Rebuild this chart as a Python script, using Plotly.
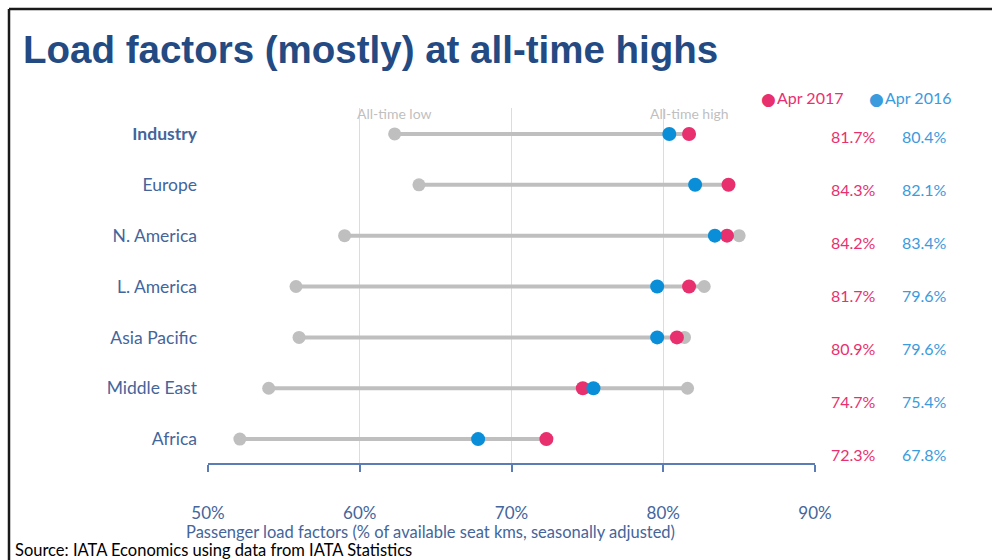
import plotly.graph_objects as go

# Passenger load factors by region (%)
regions = ["Industry", "Europe", "N. America", "L. America", "Asia Pacific", "Middle East", "Africa"]
all_time_low = [62.3, 63.9, 59.0, 55.8, 56.0, 54.0, 52.1]
all_time_high = [81.7, 84.3, 85.0, 82.7, 81.4, 81.6, 72.3]
apr_2017 = [81.7, 84.3, 84.2, 81.7, 80.9, 74.7, 72.3]
apr_2016 = [80.4, 82.1, 83.4, 79.6, 79.6, 75.4, 67.8]
x_ticks = [50, 60, 70, 80, 90]

PINK = "#E9306F"
BLUE = "#0A8ED8"
LIGHT_BLUE = "#3A9BDD"
GREY = "#BFBFBF"
NAVY = "#44659B"
FONT = "Lato, 'Open Sans', sans-serif"

W, H = 992, 560
L, R, T, B = 208, 177, 108, 97
plot_w = W - L - R
plot_h = H - T - B

rows = list(range(len(regions)))


def px_x(p):
    return (p - L) / plot_w


def px_y(p):
    return (H - B - p) / plot_h


fig = go.Figure()

# range bars from all-time low to all-time high
seg_x, seg_y = [], []
for i in rows:
    seg_x += [all_time_low[i], all_time_high[i], None]
    seg_y += [i, i, None]
fig.add_trace(go.Scatter(x=seg_x, y=seg_y, mode="lines",
                         line=dict(color=GREY, width=4), showlegend=False, hoverinfo="skip"))
fig.add_trace(go.Scatter(x=all_time_low + all_time_high, y=rows + rows, mode="markers",
                         marker=dict(color=GREY, size=13), showlegend=False))
fig.add_trace(go.Scatter(x=apr_2017, y=rows, mode="markers", name="Apr 2017",
                         marker=dict(color=PINK, size=14), showlegend=False))
fig.add_trace(go.Scatter(x=apr_2016, y=rows, mode="markers", name="Apr 2016",
                         marker=dict(color=BLUE, size=14), showlegend=False))

annotations = []

# labels above the Industry range ends
for val, label in [(all_time_low[0], "All-time low"), (all_time_high[0], "All-time high")]:
    annotations.append(dict(x=val, y=0, xref="x", yref="y", text=label,
                            showarrow=False, yshift=20, xanchor="center", yanchor="middle",
                            font=dict(family=FONT, size=14, color=GREY)))

# value columns on the right
for i in rows:
    yy = px_y(136 + 53 * i)
    annotations.append(dict(x=px_x(853), y=yy, xref="paper", yref="paper",
                            xanchor="center", yanchor="middle",
                            text=f"{apr_2017[i]:.1f}%", showarrow=False,
                            font=dict(family=FONT, size=16, color=PINK)))
    annotations.append(dict(x=px_x(924), y=yy, xref="paper", yref="paper",
                            xanchor="center", yanchor="middle",
                            text=f"{apr_2016[i]:.1f}%", showarrow=False,
                            font=dict(family=FONT, size=16, color=LIGHT_BLUE)))

# legend: dot glyph plus label
for x_dot, label, col in [(768, "Apr 2017", PINK), (876, "Apr 2016", LIGHT_BLUE)]:
    annotations.append(dict(x=px_x(x_dot), y=px_y(97), xref="paper", yref="paper",
                            xanchor="center", yanchor="middle", showarrow=False,
                            yshift=-2, borderpad=0,
                            text="●", font=dict(family="DejaVu Sans", size=17, color=col)))
    annotations.append(dict(x=px_x(x_dot + 8), y=px_y(97), xref="paper", yref="paper",
                            xanchor="left", yanchor="middle", showarrow=False, borderpad=0,
                            text=label, font=dict(family=FONT, size=16, color=col)))

# axis title
annotations.append(dict(x=px_x(430), y=px_y(532), xref="paper", yref="paper",
                        xanchor="center", yanchor="middle", borderpad=0,
                        text="Passenger load factors (% of available seat kms, seasonally adjusted)",
                        showarrow=False, font=dict(family=FONT, size=16.5, color=NAVY)))

# title and source
annotations.append(dict(x=px_x(21), y=px_y(49), xref="paper", yref="paper",
                        xanchor="left", yanchor="middle", showarrow=False,
                        text="<b>Load factors (mostly) at all-time highs</b>",
                        font=dict(family="'Liberation Sans', Arial, sans-serif", size=38.5, color="#234A82")))
annotations.append(dict(x=px_x(14), y=px_y(549.5), xref="paper", yref="paper",
                        xanchor="left", yanchor="middle", showarrow=False, borderpad=0,
                        text="Source: IATA Economics using data from IATA Statistics",
                        font=dict(family=FONT, size=16.5, color="#000000")))

# frame lines along top and left edges
shapes = [
    dict(type="line", xref="paper", yref="paper",
         x0=px_x(9), x1=px_x(W + 5), y0=px_y(9), y1=px_y(9),
         line=dict(color="#1A1A1A", width=2.5)),
    dict(type="line", xref="paper", yref="paper",
         x0=px_x(9), x1=px_x(9), y0=px_y(9), y1=px_y(H + 5),
         line=dict(color="#1A1A1A", width=2.5)),
]

fig.update_layout(
    width=W, height=H,
    margin=dict(l=L, r=R, t=T, b=B, pad=0),
    paper_bgcolor="white", plot_bgcolor="white",
    annotations=annotations, shapes=shapes,
    showlegend=False,
    xaxis=dict(range=[50, 90], tickvals=x_ticks, ticktext=[f"{v}%" for v in x_ticks],
               showgrid=True, gridcolor="#DCDCDC", gridwidth=1.2, zeroline=False,
               showline=True, linecolor="#5B7DB5", linewidth=1.5,
               ticks="outside", ticklen=7, tickcolor="#5B7DB5", tickwidth=1.5,
               ticklabelstandoff=27,
               tickfont=dict(family=FONT, size=17, color=NAVY)),
    yaxis=dict(range=[6.47, -0.51], tickvals=rows,
               ticktext=["<b>Industry</b>"] + regions[1:],
               showgrid=False, zeroline=False, showline=False, ticks="",
               ticklabelstandoff=10,
               tickfont=dict(family=FONT, size=17.5, color=NAVY)),
)

fig.write_html("out.html")
